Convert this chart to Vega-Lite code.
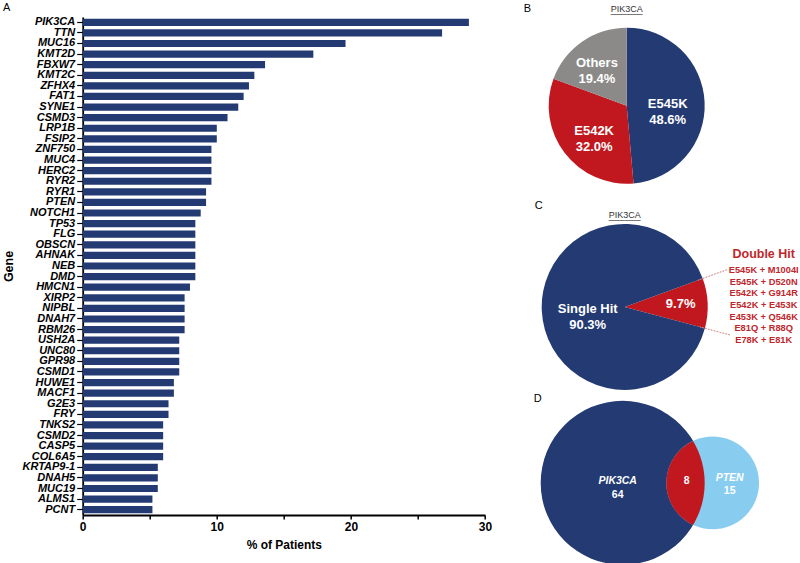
{
  "$schema": "https://vega.github.io/schema/vega-lite/v6.json",
  "padding": {"left": 2.7, "top": 1, "right": 0, "bottom": 0},
  "bounds": "flush",
  "spacing": 38,
  "config": {
    "font": "Liberation Sans",
    "view": {"stroke": null},
    "axis": {"labelFont": "Liberation Sans", "titleFont": "Liberation Sans", "labelColor": "#000", "titleColor": "#000", "domainColor": "#000", "tickColor": "#000"},
    "title": {"font": "Liberation Sans", "fontSize": 11, "fontWeight": "normal", "color": "#000", "anchor": "start", "frame": "group"},
    "text": {"font": "Liberation Sans"}
  },
  "hconcat": [
    {
      "width": 402.3,
      "height": 498,
      "title": {"text": "A", "anchor": "start", "frame": "bounds", "offset": 3},
      "data": {"values": [
        {"gene": "PIK3CA", "pct": 28.8}, {"gene": "TTN", "pct": 26.8}, {"gene": "MUC16", "pct": 19.6},
        {"gene": "KMT2D", "pct": 17.2}, {"gene": "FBXW7", "pct": 13.6}, {"gene": "KMT2C", "pct": 12.8},
        {"gene": "ZFHX4", "pct": 12.4}, {"gene": "FAT1", "pct": 12.0}, {"gene": "SYNE1", "pct": 11.6},
        {"gene": "CSMD3", "pct": 10.8}, {"gene": "LRP1B", "pct": 10.0}, {"gene": "FSIP2", "pct": 10.0},
        {"gene": "ZNF750", "pct": 9.6}, {"gene": "MUC4", "pct": 9.6}, {"gene": "HERC2", "pct": 9.6},
        {"gene": "RYR2", "pct": 9.6}, {"gene": "RYR1", "pct": 9.2}, {"gene": "PTEN", "pct": 9.2},
        {"gene": "NOTCH1", "pct": 8.8}, {"gene": "TP53", "pct": 8.4}, {"gene": "FLG", "pct": 8.4},
        {"gene": "OBSCN", "pct": 8.4}, {"gene": "AHNAK", "pct": 8.4}, {"gene": "NEB", "pct": 8.4},
        {"gene": "DMD", "pct": 8.4}, {"gene": "HMCN1", "pct": 8.0}, {"gene": "XIRP2", "pct": 7.6},
        {"gene": "NIPBL", "pct": 7.6}, {"gene": "DNAH7", "pct": 7.6}, {"gene": "RBM26", "pct": 7.6},
        {"gene": "USH2A", "pct": 7.2}, {"gene": "UNC80", "pct": 7.2}, {"gene": "GPR98", "pct": 7.2},
        {"gene": "CSMD1", "pct": 7.2}, {"gene": "HUWE1", "pct": 6.8}, {"gene": "MACF1", "pct": 6.8},
        {"gene": "G2E3", "pct": 6.4}, {"gene": "FRY", "pct": 6.4}, {"gene": "TNKS2", "pct": 6.0},
        {"gene": "CSMD2", "pct": 6.0}, {"gene": "CASP5", "pct": 6.0}, {"gene": "COL6A5", "pct": 6.0},
        {"gene": "KRTAP9-1", "pct": 5.6}, {"gene": "DNAH5", "pct": 5.6}, {"gene": "MUC19", "pct": 5.6},
        {"gene": "ALMS1", "pct": 5.2}, {"gene": "PCNT", "pct": 5.2}
      ]},
      "mark": {"type": "bar", "color": "#233a73"},
      "encoding": {
        "y": {"field": "gene", "type": "nominal", "sort": null,
          "scale": {"paddingInner": 0.32, "paddingOuter": 0.16},
          "axis": {"title": "Gene", "titleFontSize": 12.5, "titleFontWeight": "bold", "titlePadding": 6,
            "labelFontSize": 11, "labelFontWeight": "bold", "labelFontStyle": "italic", "labelPadding": 2,
            "tickSize": 6, "tickWidth": 1.2, "domainWidth": 1.8, "labelLimit": 200, "labelOverlap": false}},
        "x": {"field": "pct", "type": "quantitative",
          "scale": {"domain": [0, 30], "nice": false},
          "axis": {"title": "% of Patients", "titleFontSize": 12, "titleFontWeight": "bold", "titlePadding": 7,
            "values": [0, 5, 10, 15, 20, 25, 30], "labelExpr": "datum.value % 10 === 0 ? datum.label : ''",
            "labelFontSize": 12, "labelFontWeight": "bold", "labelPadding": 3, "labelFlush": false,
            "tickSize": 4, "tickWidth": 1.5, "domainWidth": 1.8, "grid": false}}
      }
    },
    {
      "vconcat": [
        {
          "width": 206,
          "height": 177.4,
          "title": {"text": "B", "offset": -9},
          "data": {"values": [
            {"mutation": "E545K", "pct": 48.6, "label": "E545K\n48.6%"},
            {"mutation": "E542K", "pct": 32.0, "label": "E542K\n32.0%"},
            {"mutation": "Others", "pct": 19.4, "label": "Others\n19.4%"}
          ]},
          "layer": [
            {
              "mark": {"type": "arc", "radius": 78},
              "encoding": {
                "theta": {"field": "pct", "type": "quantitative", "stack": true},
                "order": {"field": "pct", "sort": "descending"},
                "color": {"field": "mutation", "type": "nominal", "scale": {"domain": ["E545K", "E542K", "Others"], "range": ["#233a73", "#c1171e", "#8c8a89"]}, "legend": null}
              }
            },
            {
              "mark": {"type": "text", "radius": 41, "fontSize": 13, "fontWeight": "bold", "color": "white", "lineBreak": "\n", "lineHeight": 16},
              "encoding": {
                "theta": {"field": "pct", "type": "quantitative", "stack": true},
                "order": {"field": "pct", "sort": "descending"},
                "detail": {"field": "mutation"},
                "text": {"condition": {"test": "datum.mutation === 'Others'", "value": ""}, "field": "label"}
              }
            },
            {
              "mark": {"type": "text", "radius": 52, "fontSize": 13, "fontWeight": "bold", "color": "white", "lineBreak": "\n", "lineHeight": 16},
              "encoding": {
                "theta": {"field": "pct", "type": "quantitative", "stack": true},
                "order": {"field": "pct", "sort": "descending"},
                "detail": {"field": "mutation"},
                "text": {"condition": {"test": "datum.mutation !== 'Others'", "value": ""}, "field": "label"}
              }
            },
            {
              "data": {"values": [{"gene": "PIK3CA", "rule": "______"}]},
              "layer": [
                {"mark": {"type": "text", "theta": 0, "radius": 96.4, "fontSize": 9, "color": "#333"}, "encoding": {"text": {"field": "gene"}}},
                {"mark": {"type": "text", "theta": 0, "radius": 95.4, "fontSize": 9.6, "color": "#333"}, "encoding": {"text": {"field": "rule"}}}
              ]
            }
          ]
        },
        {
          "width": 275,
          "height": 166,
          "title": {"text": "C", "dx": 11, "offset": 0},
          "data": {"values": [
            {"hit": "Double Hit", "pct": 9.7, "label": "9.7%"},
            {"hit": "Single Hit", "pct": 90.3, "label": "Single Hit\n90.3%"}
          ]},
          "encoding": {"x": {"datum": "pie", "type": "nominal", "scale": {"type": "point", "domain": ["pie", "list"], "range": [101, 240], "padding": 0}, "axis": null}},
          "layer": [
            {
              "mark": {"type": "arc", "radius": 83},
              "encoding": {
                "theta": {"field": "pct", "type": "quantitative", "stack": true, "scale": {"range": [1.2217, 7.5049]}},
                "order": {"field": "pct", "sort": "ascending"},
                "color": {"field": "hit", "type": "nominal", "scale": {"domain": ["Double Hit", "Single Hit"], "range": ["#c1171e", "#233a73"]}, "legend": null}
              }
            },
            {
              "mark": {"type": "text", "radius": 37, "fontSize": 13, "fontWeight": "bold", "color": "white", "lineBreak": "\n", "lineHeight": 16},
              "encoding": {
                "theta": {"field": "pct", "type": "quantitative", "stack": true},
                "order": {"field": "pct", "sort": "ascending"},
                "detail": {"field": "hit"},
                "text": {"condition": {"test": "datum.hit === 'Double Hit'", "value": ""}, "field": "label"}
              }
            },
            {
              "mark": {"type": "text", "radius": 56, "fontSize": 13, "fontWeight": "bold", "color": "white"},
              "encoding": {
                "theta": {"field": "pct", "type": "quantitative", "stack": true},
                "order": {"field": "pct", "sort": "ascending"},
                "detail": {"field": "hit"},
                "text": {"condition": {"test": "datum.hit !== 'Double Hit'", "value": ""}, "field": "label"}
              }
            },
            {
              "transform": [
                {"stack": "pct", "groupby": [], "sort": [{"field": "pct", "order": "ascending"}], "as": ["s0", "s1"]},
                {"filter": "datum.hit === 'Double Hit'"}
              ],
              "layer": [
                {
                  "mark": {"type": "arc", "filled": false, "radius": 109, "radius2": 78, "stroke": "#d98a8a", "strokeWidth": 0.8, "strokeDash": [1.5, 1.5]},
                  "encoding": {"theta": {"field": "s0", "type": "quantitative", "stack": null}, "theta2": {"field": "s0"}}
                },
                {
                  "mark": {"type": "arc", "filled": false, "radius": 109, "radius2": 78, "stroke": "#d98a8a", "strokeWidth": 0.8, "strokeDash": [1.5, 1.5]},
                  "encoding": {"theta": {"field": "s1", "type": "quantitative", "stack": null}, "theta2": {"field": "s1"}}
                }
              ]
            },
            {
              "data": {"values": [{"gene": "PIK3CA", "rule": "______"}]},
              "layer": [
                {"mark": {"type": "text", "theta": 0, "radius": 92, "fontSize": 9, "color": "#333"}, "encoding": {"text": {"field": "gene"}}},
                {"mark": {"type": "text", "theta": 0, "radius": 91, "fontSize": 9.6, "color": "#333"}, "encoding": {"text": {"field": "rule"}}}
              ]
            },
            {
              "data": {"values": [
                {"item": "Double Hit", "kind": "header"},
                {"item": "E545K + M1004I", "kind": "pair"},
                {"item": "E545K + D520N", "kind": "pair"},
                {"item": "E542K + G914R", "kind": "pair"},
                {"item": "E542K + E453K", "kind": "pair"},
                {"item": "E453K + Q546K", "kind": "pair"},
                {"item": "E81Q + R88Q", "kind": "pair"},
                {"item": "E78K + E81K", "kind": "pair"}
              ]},
              "encoding": {
                "x": {"datum": "list", "type": "nominal"},
                "y": {"field": "item", "type": "nominal", "sort": null, "scale": {"type": "point", "range": [35.7, 116.9], "padding": 0}, "axis": null}
              },
              "layer": [
                {"transform": [{"filter": "datum.kind === 'header'"}], "mark": {"type": "text", "fontSize": 12.5, "fontWeight": "bold", "color": "#c0272d", "dy": -5.5}, "encoding": {"text": {"field": "item"}}},
                {"transform": [{"filter": "datum.kind === 'pair'"}], "mark": {"type": "text", "fontSize": 9.3, "fontWeight": "bold", "color": "#c0272d", "dy": -1}, "encoding": {"text": {"field": "item"}}}
              ]
            }
          ]
        },
        {
          "width": 240,
          "height": 128.2,
          "title": {"text": "D", "dx": 10, "offset": -3},
          "data": {"values": [
            {"set": "PIK3CA", "total": 72, "only": 64},
            {"set": "PTEN", "total": 23, "only": 15}
          ]},
          "encoding": {"x": {"field": "set", "type": "nominal", "scale": {"type": "point", "domain": ["PIK3CA", "PTEN"], "range": [99, 189], "padding": 0}, "axis": null}},
          "layer": [
            {
              "mark": {"type": "circle", "opacity": 1},
              "encoding": {
                "size": {"field": "total", "type": "quantitative", "scale": {"domain": [0, 72], "range": [0, 26896]}, "legend": null},
                "color": {"field": "set", "type": "nominal", "scale": {"domain": ["PIK3CA", "PTEN"], "range": ["#233a73", "#88cdf0"]}, "legend": null}
              }
            },
            {
              "data": {"values": [{"overlap": 8}]},
              "layer": [
                {
                  "mark": {"type": "point", "filled": true, "opacity": 1, "color": "#c1171e", "size": 8591.6,
                    "shape": "M-0.4224,-0.9064A1,1,0,0,0,-0.4224,0.9064A1.7691,1.7691,0,0,0,-0.4224,-0.9064Z"},
                  "encoding": {"x": {"datum": "PTEN"}}
                },
                {
                  "mark": {"type": "text", "fontSize": 10.5, "fontWeight": "bold", "color": "white", "dx": -26, "dy": -1.5},
                  "encoding": {"x": {"datum": "PTEN"}, "text": {"field": "overlap"}}
                }
              ]
            },
            {
              "transform": [{"filter": "datum.set === 'PIK3CA'"}],
              "layer": [
                {"mark": {"type": "text", "fontSize": 10.5, "fontWeight": "bold", "fontStyle": "italic", "color": "white", "dx": -5, "dy": -2}, "encoding": {"text": {"field": "set"}}},
                {"mark": {"type": "text", "fontSize": 10.5, "fontWeight": "bold", "color": "white", "dx": -5, "dy": 12}, "encoding": {"text": {"field": "only"}}}
              ]
            },
            {
              "transform": [{"filter": "datum.set === 'PTEN'"}],
              "layer": [
                {"mark": {"type": "text", "fontSize": 10.5, "fontWeight": "bold", "fontStyle": "italic", "color": "white", "dx": 17, "dy": -4.5}, "encoding": {"text": {"field": "set"}}},
                {"mark": {"type": "text", "fontSize": 10.5, "fontWeight": "bold", "color": "white", "dx": 17, "dy": 8}, "encoding": {"text": {"field": "only"}}}
              ]
            }
          ]
        }
      ],
      "spacing": 28.9,
      "bounds": "flush",
      "resolve": {"scale": {"color": "independent", "size": "independent", "theta": "independent", "x": "independent", "y": "independent"}}
    }
  ]
}
